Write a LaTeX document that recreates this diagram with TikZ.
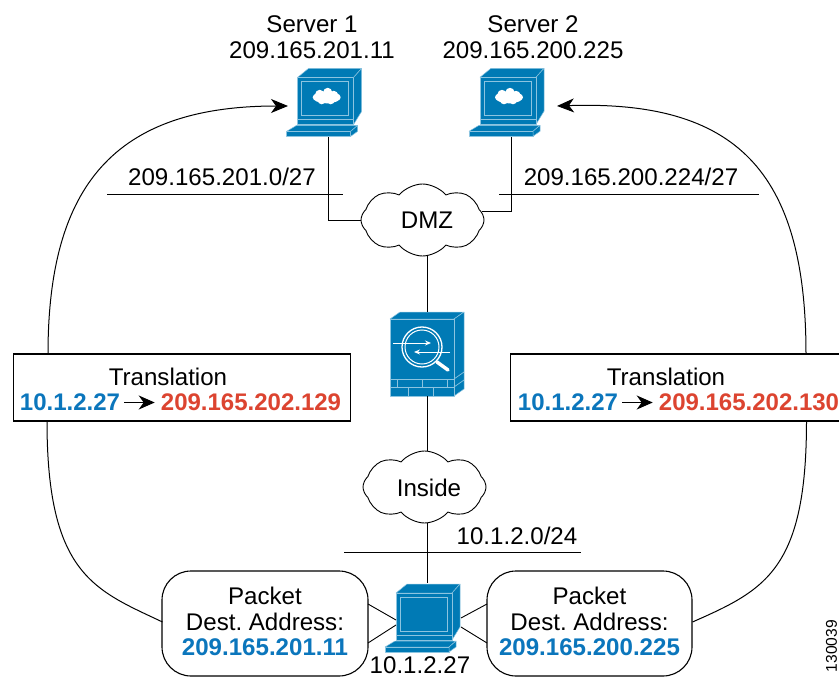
\documentclass[tikz,border=0pt]{standalone}
\usepackage{fontspec}
\setmainfont{Liberation Sans}
\usetikzlibrary{shapes.symbols,arrows.meta}

\definecolor{IB}{HTML}{007AB5}
\definecolor{IL}{HTML}{8CC4E0}
\definecolor{TB}{HTML}{0B76BC}
\definecolor{TR}{HTML}{DC4430}

\tikzset{
    txt/.style={font=\fontsize{24.1}{25.5}\selectfont\frenchspacing, inner sep=0, align=center},
    bluetxt/.style={txt, text=TB, font=\fontsize{24}{25.5}\selectfont\bfseries},
    redtxt/.style={txt, text=TR, font=\fontsize{24}{25.5}\selectfont\bfseries},
    icon/.style={fill=IB, draw=IL, line width=0.5pt, line join=round},
    holder/.style={inner sep=0, minimum width=75pt, minimum height=68pt},
    netcloud/.style={draw, cloud, cloud puffs=8, cloud puff arc=100, aspect=1.7, inner sep=0, minimum width=123pt, minimum height=72pt, fill=white, line width=0.9pt},
    trans/.style={draw, fill=white, line width=1.1pt, inner sep=0, minimum width=337pt, minimum height=67pt},
    packet/.style={draw, fill=white, rounded corners=29pt, line width=1.1pt, inner sep=0, minimum height=105pt},
    wire/.style={line width=0.9pt},
    loopline/.style={line width=1pt},
    bigtip/.style={-{Stealth[length=17pt, width=14pt, inset=5pt]}},
    smalltip/.style={line width=1pt, shorten <=4pt, shorten >=6pt, -{Stealth[length=16pt, width=14pt, inset=5pt]}},
    laptop/.pic={
        \filldraw[icon] (11,9) -- (22,0) -- (75,0) -- (67,9) -- cycle;
        \filldraw[icon] (67,9) -- (75,0) -- (75,43) -- (67,56) -- cycle;
        \filldraw[icon] (11,9) rectangle (67,51);
        \filldraw[icon] (11,51) rectangle (67,56);
        \draw[IL, line width=0.8pt] (15,13) rectangle (62,47);
        \filldraw[icon] (0,63) -- (10,57) -- (71,57) -- (64,63) -- cycle;
        \filldraw[icon] (0,63) rectangle (64,68);
        \filldraw[icon] (64,63) -- (71,57) -- (71,63) -- (64,68) -- cycle;
    },
    screencloud/.pic={
        \fill[white] (40,29) ellipse [x radius=14pt, y radius=6pt];
        \fill[white] (33,26) circle [radius=4.5pt];
        \fill[white] (41,24) circle [radius=4.5pt];
        \fill[white] (47,27) circle [radius=4.5pt];
        \fill[white] (35,32) circle [radius=4pt];
        \fill[white] (44,32) circle [radius=4pt];
    },
    firewall/.pic={
        \filldraw[icon] (0,7) -- (10,0) -- (74,0) -- (64,7) -- cycle;
        \filldraw[icon] (64,7) -- (74,0) -- (74,77) -- (64,84) -- cycle;
        \filldraw[icon] (0,7) rectangle (64,84);
        \draw[IL, line width=0.7pt] (0,67) -- (64,67) (0,75) -- (64,75);
        \draw[IL, line width=0.7pt] (7,67) -- (7,75) (32,67) -- (32,75) (57,67) -- (57,75);
        \draw[IL, line width=0.7pt] (18,75) -- (18,84) (43,75) -- (43,84);
        \draw[IL, line width=0.7pt] (64,67) -- (74,60) (64,75) -- (74,68);
        \draw[white, line width=0.9pt, -{Stealth[length=6pt, width=5pt]}] (3,31) -- (41,31);
        \draw[white, line width=0.9pt, -{Stealth[length=6pt, width=5pt]}] (60,40) -- (24,40);
        \draw[white, line width=3.5pt, line cap=round] (47,50) -- (58,58);
        \draw[white, line width=1.3pt] (32,35) circle [radius=20pt];
        \draw[white, line width=1pt] (32,35) circle [radius=17pt];
    },
}

\begin{document}
\begin{tikzpicture}[x=1pt, y=-1pt]
    \useasboundingbox (0,0) rectangle (839,677);
    \clip (0,0) rectangle (839,677);

    \node[holder] (srvA) at (324.5,102) {};
    \node[holder] (srvB) at (506.5,102) {};
    \node[holder, minimum height=71pt] (hostA) at (423,618.5) {};
    \node[inner sep=0, minimum width=74pt, minimum height=84pt] (fwA) at (427,354) {};
    \pic at (286.7,68.3) {laptop};
    \pic at (286.7,68.3) {screencloud};
    \pic at (469,68.3) {laptop};
    \pic at (469,68.3) {screencloud};
    \pic at (385,584) {laptop};
    \pic at (390,312) {firewall};

    \node[txt] (srvAlbl) at (312,37) {Server 1\\209.165.201.11};
    \node[txt] (srvBlbl) at (533,37) {Server 2\\209.165.200.225};

    \coordinate (subAl) at (107,194);
    \coordinate (subAr) at (343,194);
    \coordinate (subBl) at (499,194);
    \coordinate (subBr) at (759,194);
    \coordinate (subCl) at (344,552);
    \coordinate (subCr) at (581,552);
    \draw[wire] (subAl) -- (subAr);
    \draw[wire] (subBl) -- (subBr);
    \draw[wire] (subCl) -- (subCr);
    \node[txt] (subAlbl) at (222,177) {209.165.201.0/27};
    \node[txt] (subBlbl) at (631,177) {209.165.200.224/27};
    \node[txt] (subClbl) at (517,536) {10.1.2.0/24};

    \node[netcloud] (dmz) at (422.5,220) {};
    \node[txt] (dmzlbl) at (427,220) {DMZ};
    \node[netcloud] (inside) at (424.5,487) {};
    \node[txt] (insidelbl) at (429,488) {Inside};

    \coordinate (srvAin) at (328.3,137);
    \coordinate (srvBin) at (511.7,137);
    \draw[wire] (srvAin) |- (dmz.west);
    \draw[wire] (srvBin) |- (dmz.8);
    \draw[wire] (fwA |- dmz.south) -- (fwA.north);
    \draw[wire] (fwA.south) -- (fwA |- inside.north);
    \draw[wire] (fwA |- inside.south) -- (fwA |- hostA.north);

    \node[packet, minimum width=206pt] (pktA) at (265,623.5) {};
    \node[packet, minimum width=205pt] (pktB) at (589.5,623.5) {};
    \node[txt] (pktAlbl) at (265,621.5) {Packet\\Dest. Address:\\\textcolor{TB}{\textbf{209.165.201.11}}};
    \node[txt] (pktBlbl) at (589.5,621.5) {Packet\\Dest. Address:\\\textcolor{TB}{\textbf{209.165.200.225}}};
    \node[txt] (hostlbl) at (420,665) {10.1.2.27};

    \coordinate (hostAup) at (396,620);
    \coordinate (hostAlow) at (396,625);
    \coordinate (hostBup) at (461,618);
    \coordinate (hostBlow) at (461,627);
    \coordinate (pktAup) at (368,604);
    \coordinate (pktAlow) at (368,643);
    \coordinate (pktBup) at (487,604);
    \coordinate (pktBlow) at (487,643);
    \draw[wire] (pktAup) -- (hostAup);
    \draw[wire] (pktAlow) -- (hostAlow);
    \draw[wire] (pktBup) -- (hostBup);
    \draw[wire] (pktBlow) -- (hostBlow);

    \node[trans] (tlA) at (181.7,387.5) {};
    \node[trans] (tlB) at (679.2,387.5) {};
    \node[txt] (tlAhead) at (168,377) {Translation};
    \node[bluetxt] (tlAsrc) at (70,402.5) {10.1.2.27};
    \node[redtxt] (tlAdst) at (251,402.5) {209.165.202.129};
    \node[txt] (tlBhead) at (666,377) {Translation};
    \node[bluetxt] (tlBsrc) at (568,402.5) {10.1.2.27};
    \node[redtxt] (tlBdst) at (749,402.5) {209.165.202.130};
    \draw[smalltip] (tlAsrc) -- (tlAdst);
    \draw[smalltip] (tlBsrc) -- (tlBdst);

    \coordinate (tlAlow) at (47,421);
    \coordinate (tlAup) at (48,354);
    \coordinate (tlBlow) at (806.5,421);
    \coordinate (tlBup) at (806,354);
    \coordinate (srvAtip) at (288,106);
    \coordinate (srvBtip) at (557,106);
    \coordinate (pktAout) at (162.5,622);
    \coordinate (pktBout) at (692.5,622);
    \draw[loopline] (pktAout) .. controls (95,590) and (47,575) .. (tlAlow);
    \draw[loopline, bigtip] (tlAup) .. controls (48,185) and (115,106) .. (srvAtip);
    \draw[loopline] (pktBout) .. controls (765,590) and (806.5,570) .. (tlBlow);
    \draw[loopline, bigtip] (tlBup) .. controls (806,170) and (735,100) .. (srvBtip);

    \node[font=\fontsize{15.6}{17}\selectfont, rotate=90, inner sep=0] (figno) at (831.5,646) {130039};
\end{tikzpicture}
\end{document}
